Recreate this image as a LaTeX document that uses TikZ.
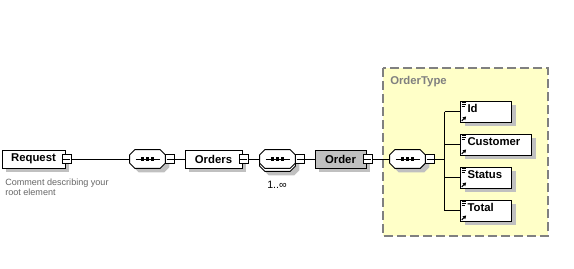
\documentclass[tikz,border=0pt]{standalone}
\usepackage{fontspec}
\setmainfont{Liberation Sans}
\usetikzlibrary{arrows.meta, positioning, shadows}
\definecolor{xgray}{HTML}{C0C0C0}
\definecolor{xyellow}{HTML}{FFFFC8}
\definecolor{xdash}{HTML}{808080}
\definecolor{xnote}{HTML}{666666}

% octagon round an (invisible) compositor node
\newcommand{\octagon}[1]{([xshift=3.75pt]#1.north west) -- ([xshift=-3.75pt]#1.north east)
  -- ([yshift=-3.75pt]#1.north east) -- ([yshift=3.75pt]#1.south east)
  -- ([xshift=-3.75pt]#1.south east) -- ([xshift=3.75pt]#1.south west)
  -- ([yshift=3.75pt]#1.south west) -- ([yshift=-3.75pt]#1.north west) -- cycle}

\tikzset{
  xshadow/.style={drop shadow={shadow xshift=3pt, shadow yshift=-3pt, fill=xgray, opacity=1}},
  elembox/.style={draw, fill=white, line width=0.75pt, xshadow, minimum height=13.5pt, inner sep=0pt,
    font=\fontsize{8.5}{10}\selectfont\bfseries},
  leafbox/.style={elembox, anchor=west, minimum height=15.75pt, align=left, inner xsep=5.25pt, inner ysep=0pt,
    text width=27.75pt, text height=8.7pt, text depth=7.05pt},
  seqbox/.style={minimum width=26.25pt, minimum height=13.5pt, inner sep=0pt},
  minusbox/.style={draw, fill=white, line width=0.75pt, minimum size=6.75pt, inner sep=0pt,
    path picture={\draw[line width=0.75pt] ([xshift=0.75pt]path picture bounding box.west) -- ([xshift=-0.75pt]path picture bounding box.east);}},
  wire/.style={line width=0.75pt},
  small/.style={font=\fontsize{6.8}{7.5}\selectfont, text=xnote, align=left, inner sep=0pt}
}

\begin{document}
\begin{tikzpicture}[x=0.75pt, y=-0.75pt]
\useasboundingbox (0,0) rectangle (574,268);
% complex type frame
\fill[xyellow] (383,68) rectangle (548,236);
\draw[xdash, line width=1.1pt, dash pattern=on 6.75pt off 3pt] (383,68) rectangle (548,236);
\node[font=\fontsize{8.5}{10}\selectfont\bfseries, text=xdash, anchor=west, inner sep=0pt] (typename) at (390,82) {OrderType};

% compositors: named place holders, outlines drawn below
\node[seqbox] (seq1) at (147.5,159) {};
\node[seqbox] (seq2-back) at (277.5,162) {};
\node[seqbox] (seq2) at (277.5,159) {};
\node[seqbox] (seq3) at (407.5,159) {};
\foreach \s in {seq1,seq2-back,seq3}
  \fill[xgray, transform canvas={shift={(3pt,-3pt)}}] \octagon{\s};
\foreach \s in {seq1,seq2-back,seq2,seq3}
  \filldraw[fill=white, line width=0.75pt] \octagon{\s};
\foreach \s in {seq1,seq2,seq3} {
  \draw[line width=0.75pt] ([xshift=-9pt]\s.center) -- ([xshift=9pt]\s.center);
  \foreach \dx in {-3.9pt,0pt,3.9pt}
    \fill ([xshift=\dx]\s.center) +(-1.3pt,-1.2pt) rectangle +(1.3pt,1.2pt);
}
\node[minusbox, anchor=west] (seq1-m) at (seq1.east) {};
\node[minusbox, anchor=west] (seq2-m) at (seq2.east) {};
\node[minusbox, anchor=west] (seq3-m) at (seq3.east) {};
\node[font=\fontsize{8}{9}\selectfont, inner sep=0pt] (occurs) at (277,185) {1..∞};

% root element and its comment
\node[elembox, minimum width=47.25pt] (request) at (33.5,159) {Request};
\node[minusbox] (request-m) at ([xshift=1pt]request.east) {};
\node[small, anchor=north west] (note) at (5,179) {Comment describing your\\root element};

% Orders, Order
\node[elembox, minimum width=42.75pt] (orders) at (213.5,159) {Orders};
\node[minusbox] (orders-m) at ([xshift=1pt]orders.east) {};
\node[elembox, fill=xgray, minimum width=38.25pt] (order) at (340.5,159) {Order};
\node[minusbox] (order-m) at ([xshift=1pt]order.east) {};

% content of OrderType
\node[leafbox] (id) at (460,111.5) {Id};
\node[leafbox, text width=42.75pt] (customer) at (460,144.5) {Customer};
\node[leafbox] (status) at (460,177.5) {Status};
\node[leafbox] (total) at (460,210.5) {Total};

% connectors
\draw[wire] (request-m.east) -- (seq1.west);
\draw[wire] (seq1-m.east) -- (orders.west);
\draw[wire] (orders-m.east) -- (seq2.west);
\draw[wire] (seq2-m.east) -- (order.west);
\draw[wire] (order-m.east) -- (seq3.west);
\coordinate (fork) at (444.5,159);
\draw[wire] (seq3-m.east) -- (fork);
\draw[wire] (id.west -| fork) -- (total.west -| fork);
\foreach \leaf in {id,customer,status,total}
  \draw[wire] (\leaf.west -| fork) -- (\leaf.west);

% simple type / reference marks
\foreach \leaf in {id,customer,status,total} {
  \foreach \dy/\len in {1.1/3.4, 2.6/3.4, 4.1/2.6}
    \draw[line width=0.6pt] ([shift={(1.2pt,-\dy pt)}]\leaf.north west) -- +(\len pt,0);
  \draw[line width=0.9pt, -{Triangle[length=2.4pt, width=2.8pt]}] ([shift={(1.3pt,1.2pt)}]\leaf.south west) -- +(3.3pt,3.3pt);
}
\end{tikzpicture}
\end{document}
